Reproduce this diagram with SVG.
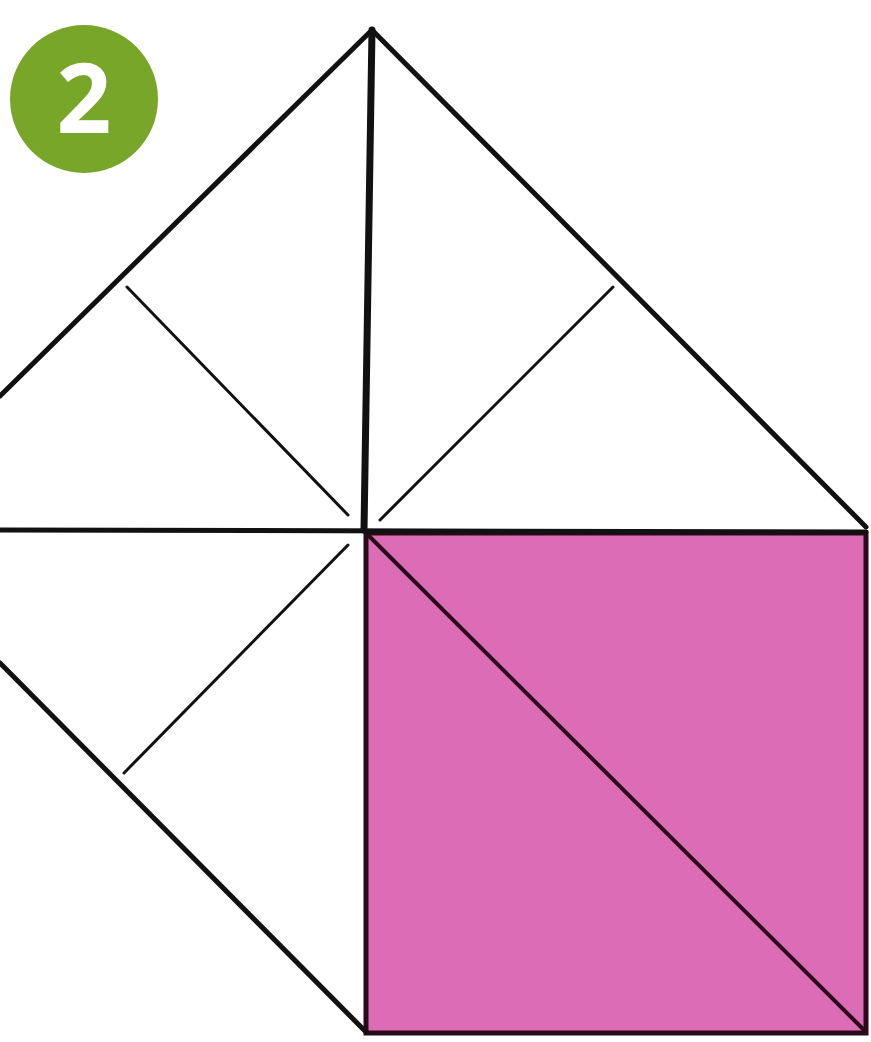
<svg xmlns="http://www.w3.org/2000/svg" width="871" height="1042" viewBox="0 0 871 1042">
<style>
.thick{stroke:#111;stroke-width:5;fill:none;stroke-linecap:round;stroke-linejoin:round}
.thin{stroke:#111;stroke-width:3;fill:none;stroke-linecap:round}
</style>
<rect width="871" height="1042" fill="#fff"/>
<g id="pink-square">
<rect x="366" y="533" width="500" height="500" fill="#dc6cb6" stroke="#2a0a1a" stroke-width="5"/>
<line x1="366" y1="533" x2="864" y2="1030" stroke="#2a0a1a" stroke-width="4"/>
</g>
<g id="fold-lines">
<polyline class="thick" points="0,396 372,30 866,527"/>
<line class="thick" x1="372" y1="30" x2="364" y2="530" style="stroke-width:7"/>
<line class="thick" x1="0" y1="530" x2="866" y2="532"/>
<line class="thick" x1="0" y1="663" x2="366" y2="1032"/>
<line class="thin" x1="127" y1="287" x2="348" y2="515"/>
<line class="thin" x1="613" y1="287" x2="380" y2="520"/>
<line class="thin" x1="348" y1="545" x2="124" y2="773"/>
</g>
<g id="step-badge">
<circle cx="84" cy="99" r="74" fill="#78a628"/>
<text x="84" y="133" text-anchor="middle" font-family="Open Sans, Liberation Sans, sans-serif" font-weight="bold" font-size="96" fill="#fff">2</text>
</g>
</svg>
